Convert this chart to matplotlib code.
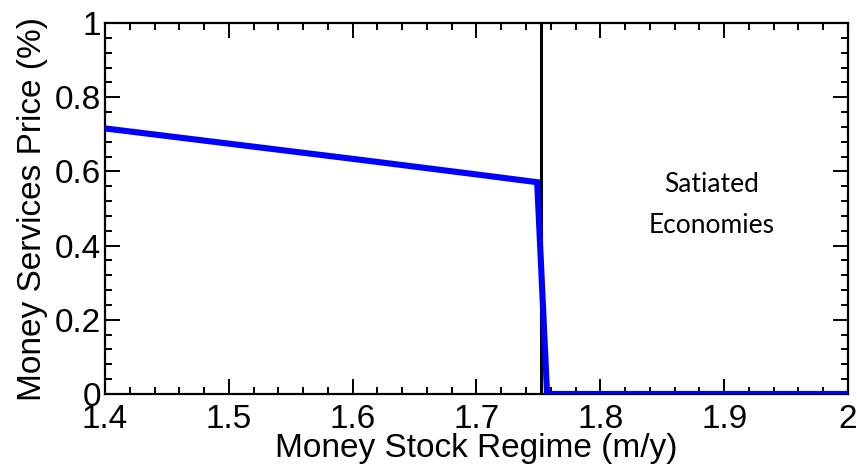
import matplotlib
matplotlib.use("Agg")
import matplotlib.pyplot as plt
from matplotlib.ticker import MultipleLocator

# money stock regime (m/y) vs money services price (%)
regime = [1.40, 1.50, 1.60, 1.70, 1.749, 1.757, 1.80, 1.90, 2.00]
price = [0.716, 0.675, 0.634, 0.592, 0.571, 0.0, 0.0, 0.0, 0.0]
threshold = 1.752

x_ticks = [1.4, 1.5, 1.6, 1.7, 1.8, 1.9, 2.0]
x_labels = ["1.4", "1.5", "1.6", "1.7", "1.8", "1.9", "2"]
y_ticks = [0, 0.2, 0.4, 0.6, 0.8, 1.0]
y_labels = ["0", "0.2", "0.4", "0.6", "0.8", "1"]

plt.rcParams["font.family"] = ["Liberation Sans", "DejaVu Sans"]

fig = plt.figure(figsize=(8.57, 4.71), dpi=100)
ax = fig.add_axes([0.1225, 0.1635, 0.867, 0.7875])

ax.axvline(threshold, color="black", lw=2.2, zorder=2)
ax.plot(regime, price, color="#0000ff", lw=4.4, solid_joinstyle="miter", zorder=3)

ax.text(1.89, 0.565, "Satiated", ha="center", va="center", fontsize=19,
        family=["Lato", "DejaVu Sans"])
ax.text(1.89, 0.455, "Economies", ha="center", va="center", fontsize=19,
        family=["Lato", "DejaVu Sans"])

ax.set_xlim(1.4, 2.0)
ax.set_ylim(0, 1)
ax.set_xticks(x_ticks)
ax.set_xticklabels(x_labels)
ax.set_yticks(y_ticks)
ax.set_yticklabels(y_labels)
ax.xaxis.set_minor_locator(MultipleLocator(0.02))
ax.yaxis.set_minor_locator(MultipleLocator(0.04))

ax.tick_params(which="both", direction="in", top=True, right=True, width=1.4)
ax.tick_params(which="major", length=10.5, labelsize=24)
ax.tick_params(axis="x", which="major", pad=7)
ax.tick_params(axis="y", which="major", pad=3)
ax.tick_params(which="minor", length=5)
for sp in ax.spines.values():
    sp.set_linewidth(1.6)

ax.set_xlabel("Money Stock Regime (m/y)", fontsize=24, labelpad=-1)
ax.set_ylabel("Money Services Price (%)", fontsize=24, labelpad=5)

fig.savefig("out.png", dpi=100)
